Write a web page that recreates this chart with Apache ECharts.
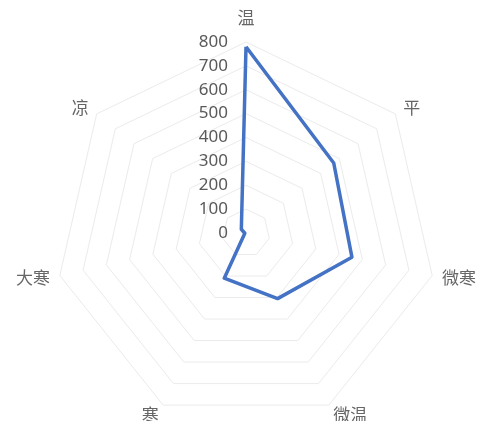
<!DOCTYPE html>
<html>
<head>
<meta charset="utf-8">
<script src="https://cdn.jsdelivr.net/npm/echarts@6/dist/echarts.min.js"></script>
<style>
  html, body { margin: 0; padding: 0; background: #ffffff; }
  #chart { width: 483px; height: 421px; }
</style>
</head>
<body>
<div id="chart"></div>
<script>
// Property categories, listed clockwise from the top
const categories = ['温', '平', '微寒', '微温', '寒', '大寒', '凉'];
// Count per category
const counts = [780, 470, 455, 305, 210, 5, 25];
// Scale labels on the top axis
const tickLabels = ['0', '100', '200', '300', '400', '500', '600', '700', '800'];
const axisMax = 800;
const axisStep = 100;

// Radar geometry
const cx = 246, cy = 233, R = 191;

// ECharts lays radar indicators out counter-clockwise, so keep the first one
// on top and reverse the rest to read clockwise.
const order = [0].concat(categories.slice(1).map((_, i) => categories.length - 1 - i));
const indicators = order.map(i => ({ name: categories[i], max: axisMax, min: 0 }));
const values = order.map(i => counts[i]);

const chart = echarts.init(document.getElementById('chart'), null, { renderer: 'canvas' });
chart.setOption({
  backgroundColor: '#ffffff',
  animation: false,
  // value scale drawn along the top spoke
  grid: { left: cx, top: cy - R, width: 1, height: R, containLabel: false },
  xAxis: { type: 'value', show: false, min: 0, max: 1 },
  yAxis: {
    type: 'value',
    min: 0,
    max: axisMax,
    interval: axisStep,
    axisLine: { show: false },
    axisTick: { show: false },
    splitLine: { show: false },
    axisLabel: {
      margin: 18,
      color: '#595959',
      fontSize: 17,
      fontFamily: 'Noto Sans, sans-serif',
      formatter: (v) => tickLabels[Math.round(v / axisStep)]
    }
  },
  radar: {
    center: [cx, cy],
    radius: R,
    shape: 'polygon',
    splitNumber: tickLabels.length - 1,
    startAngle: 90,
    indicator: indicators,
    nameGap: 10,
    axisName: {
      color: '#666666',
      fontSize: 17,
      fontFamily: 'Noto Sans CJK SC, sans-serif',
      // the top name sits a little higher, clear of the value scale
      formatter: (name) => (name === categories[0] ? '{top|' + name + '}' : name),
      rich: {
        top: {
          color: '#666666',
          fontSize: 17,
          fontFamily: 'Noto Sans CJK SC, sans-serif',
          padding: [0, 0, 6, 0]
        }
      }
    },
    axisLine: { show: false },
    axisTick: { show: false },
    axisLabel: { show: false },
    splitArea: { show: false },
    splitLine: { lineStyle: { color: '#ebebeb', width: 1 } }
  },
  series: [{
    type: 'radar',
    symbol: 'none',
    lineStyle: { color: '#4472C4', width: 3.5 },
    data: [{ value: values, name: '数量' }]
  }]
});
</script>
</body>
</html>
